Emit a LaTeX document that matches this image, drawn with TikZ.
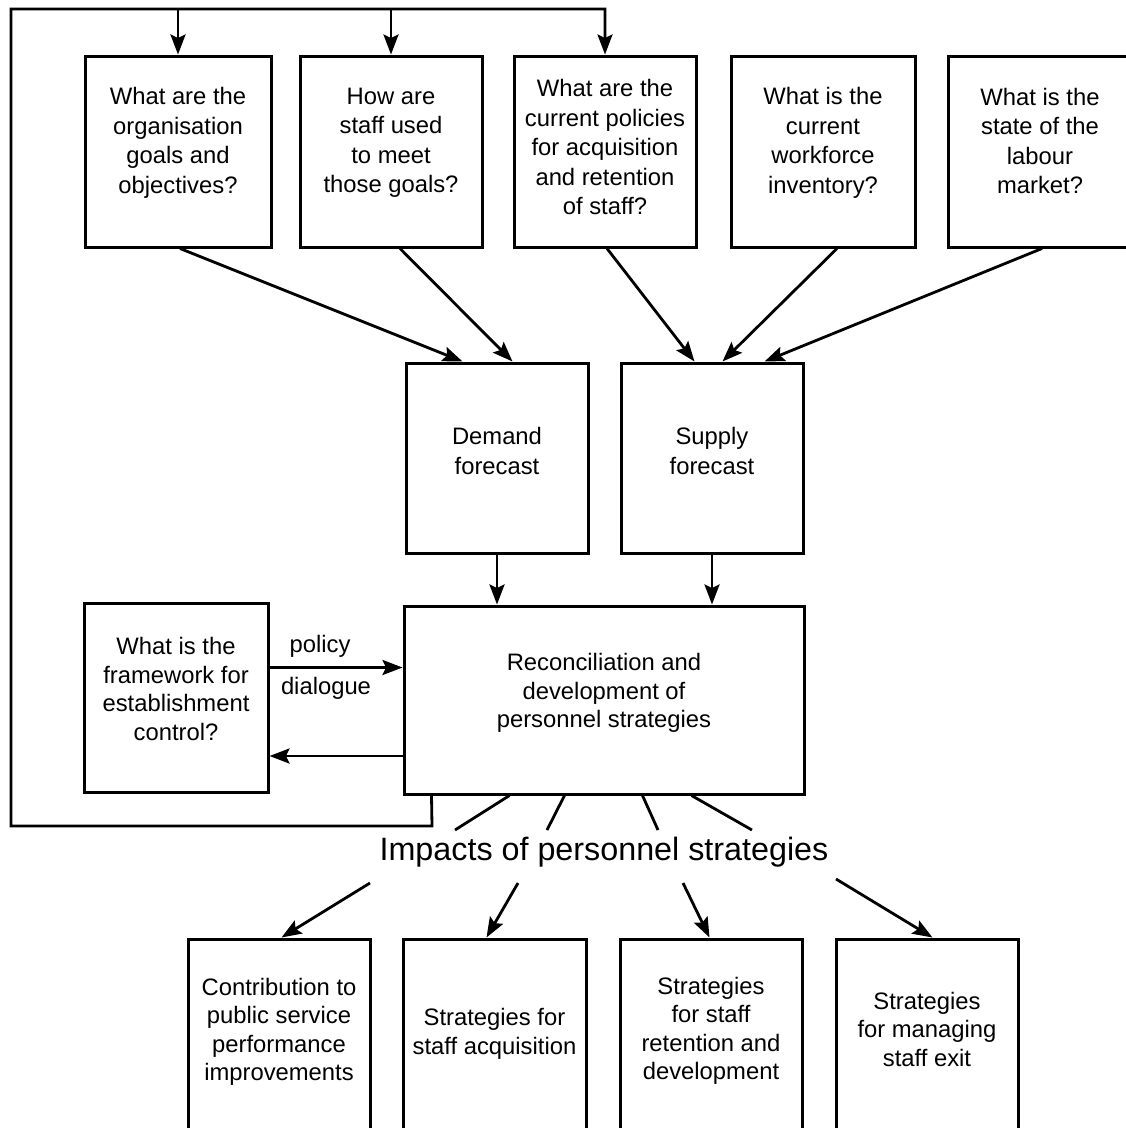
\documentclass[tikz,border=0pt]{standalone}
\usepackage{fontspec}
\setmainfont{Liberation Sans}
\usetikzlibrary{arrows.meta}
\begin{document}
\begin{tikzpicture}[x=1pt,y=-1pt,
  box/.style={draw, line width=3pt, inner sep=0pt},
  txt/.style={align=center, font=\fontsize{23.8}{29.5}\selectfont, inner sep=0pt},
  txts/.style={align=center, font=\fontsize{23.8}{28.5}\selectfont, inner sep=0pt},
  link/.style={line width=2.8pt},
  arr/.style={link, -{Stealth[length=20pt,width=15pt,inset=3.5pt]}},
]
\useasboundingbox (0,0) rectangle (1126,1128);

% question boxes along the top
\node[box, minimum width=186pt, minimum height=191pt] (q1) at (178,151.5) {};
\node[box, minimum width=182pt, minimum height=191pt] (q2) at (391,151.5) {};
\node[box, minimum width=182pt, minimum height=191pt] (q3) at (605,151.5) {};
\node[box, minimum width=184pt, minimum height=191pt] (q4) at (823,151.5) {};
\node[box, minimum width=184pt, minimum height=191pt] (q5) at (1040,151.5) {};
\node[txt] (q1t) at (178,143) {What are the\\organisation\\goals and\\objectives?};
\node[txt] (q2t) at (391,143) {How are\\staff used\\to meet\\those goals?};
\node[txt] (q3t) at (605,147) {What are the\\current policies\\for acquisition\\and retention\\of staff?};
\node[txt] (q4t) at (823,143) {What is the\\current\\workforce\\inventory?};
\node[txt] (q5t) at (1040,141) {What is the\\state of the\\labour\\market?};

% forecasts
\node[box, minimum width=182pt, minimum height=190pt] (dem) at (497,458) {};
\node[box, minimum width=182pt, minimum height=190pt] (sup) at (712,458) {};
\node[txt] (demt) at (497,451) {Demand\\forecast};
\node[txt] (supt) at (712,451) {Supply\\forecast};

% reconciliation and framework
\node[box, minimum width=400pt, minimum height=188pt] (rec) at (604,700) {};
\node[txts] (rect) at (604,693) {Reconciliation and\\development of\\personnel strategies};
\node[box, minimum width=184pt, minimum height=189pt] (frm) at (176,697.5) {};
\node[txts] (frmt) at (176,689) {What is the\\framework for\\establishment\\control?};

% impacts
\node[anchor=base, inner sep=0pt, font=\fontsize{32.3}{36}\selectfont] (imp) at (604,860) {Impacts of personnel strategies};

% strategy boxes along the bottom
\node[box, minimum width=182pt, minimum height=196pt] (bA) at (279,1037) {};
\node[box, minimum width=183pt, minimum height=196pt] (bB) at (494.5,1037) {};
\node[box, minimum width=182pt, minimum height=196pt] (bC) at (711,1037) {};
\node[box, minimum width=182pt, minimum height=196pt] (bD) at (927,1037) {};
\node[txts] (bAt) at (279,1032) {Contribution to\\public service\\performance\\improvements};
\node[txts] (bBt) at (494.5,1034) {Strategies for\\staff acquisition};
\node[txts] (bCt) at (711,1031) {Strategies\\for staff\\retention and\\development};
\node[txts] (bDt) at (927,1029) {Strategies\\for managing\\staff exit};

% feedback loop corners
\coordinate (loopBR) at (432,826);
\coordinate (loopBL) at (11,826);
\coordinate (loopTL) at (11,9);

\draw[arr] ([xshift=29pt]rec.south west) -- (loopBR) -- (loopBL) -- (loopTL) -| (q3.north);
\draw[arr] (q1.north |- loopTL) -- (q1.north);
\draw[arr] (q2.north |- loopTL) -- (q2.north);

% questions feed the forecasts
\draw[arr] ([xshift=2pt]q1.south) -- ([xshift=58pt]dem.north west);
\draw[arr] ([xshift=9pt]q2.south) -- ([xshift=108pt]dem.north west);
\draw[arr] ([xshift=2pt]q3.south) -- ([xshift=75pt]sup.north west);
\draw[arr] ([xshift=14pt]q4.south) -- ([xshift=103pt]sup.north west);
\draw[arr] ([xshift=2pt]q5.south) -- ([xshift=145pt]sup.north west);

% forecasts feed the reconciliation
\draw[arr] (dem.south) -- (dem.south |- rec.north);
\draw[arr] (sup.south) -- (sup.south |- rec.north);

% policy dialogue
\coordinate (pIn) at ([yshift=30pt]frm.east);
\coordinate (pOut) at ([yshift=-58.5pt]frm.east);
\draw[arr] (pIn) -- (pIn -| rec.west);
\draw[arr] (pOut -| rec.west) -- (pOut);
\node[txt] (pol) at (320,646) {policy};
\node[txt] (dia) at (326,688) {dialogue};

% reconciliation fans out to the impacts
\coordinate (i1) at (455,830);
\coordinate (i2) at (547,830);
\coordinate (i3) at (658,830);
\coordinate (i4) at (752,830);
\draw[link] ([xshift=107pt]rec.south west) -- (i1);
\draw[link] ([xshift=162pt]rec.south west) -- (i2);
\draw[link] ([xshift=240pt]rec.south west) -- (i3);
\draw[link] ([xshift=289pt]rec.south west) -- (i4);

% impacts feed the strategies
\coordinate (o1) at (370,883);
\coordinate (o2) at (518,883);
\coordinate (o3) at (683,883);
\coordinate (o4) at (836,879);
\draw[arr] (o1) -- ([xshift=95pt]bA.north west);
\draw[arr] (o2) -- ([xshift=85pt]bB.north west);
\draw[arr] (o3) -- ([xshift=91pt]bC.north west);
\draw[arr] (o4) -- ([xshift=98pt]bD.north west);
\end{tikzpicture}
\end{document}
